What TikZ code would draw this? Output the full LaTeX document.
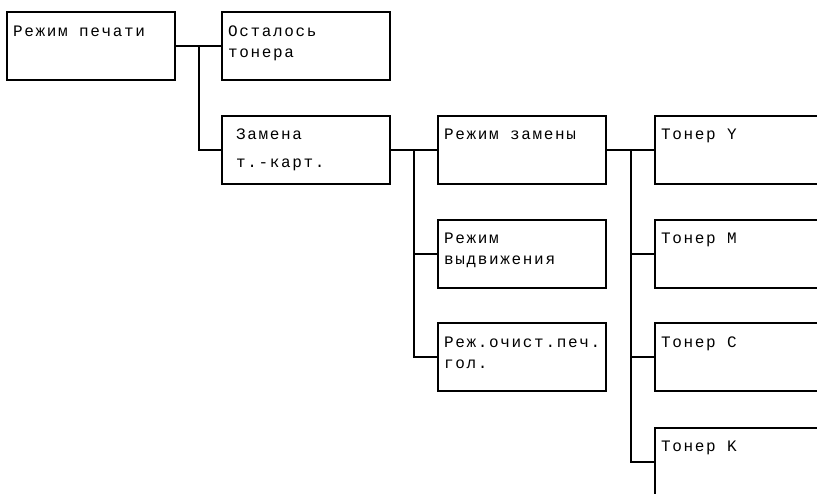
\documentclass[tikz,border=0pt]{standalone}
\usepackage{fontspec}
\newfontfamily\menufont[LetterSpace=10.5]{Liberation Mono}
\usetikzlibrary{calc}

\begin{document}
\begin{tikzpicture}[
  x=1pt, y=-1pt,
  line width=2pt,
  menubox/.style={draw, anchor=north west, minimum width=168pt, minimum height=68pt, inner sep=0pt, outer sep=0pt},
  menutext/.style={anchor=north west, inner sep=0pt, align=left, font={\menufont\fontsize{16}{21}\selectfont}}
]
\useasboundingbox (0,0) rectangle (817,493);
\clip (0,0) rectangle (817,493);

% --- menu boxes ---
\node[menubox] (print) at (7,12) {};
\node[menubox] (remain) at (222,12) {};
\node[menubox] (swap) at (222,116) {};
\node[menubox] (swapmode) at (438,116) {};
\node[menubox] (ejectmode) at (438,220) {};
\node[menubox] (cleanmode) at (438,323) {};
\node[menubox] (tonery) at (655,116) {};
\node[menubox] (tonerm) at (655,220) {};
\node[menubox] (tonerc) at (655,323) {};
\node[menubox] (tonerk) at (655,428) {};

% --- texts ---
\node[menutext] (printtxt) at ([shift={(5pt,-9pt)}]print.north west) {\strut Режим печати};
\node[menutext] (remaintxt) at ([shift={(5pt,-9pt)}]remain.north west) {\strut Осталось\\тонера};
\node[menutext] (swaptxt) at ([shift={(13pt,-8pt)}]swap.north west) {\strut Замена\\[7pt]т.-карт.};
\node[menutext] (swapmodetxt) at ([shift={(5pt,-8pt)}]swapmode.north west) {\strut Режим замены};
\node[menutext] (ejectmodetxt) at ([shift={(5pt,-8pt)}]ejectmode.north west) {\strut Режим\\выдвижения};
\node[menutext] (cleanmodetxt) at ([shift={(5pt,-9pt)}]cleanmode.north west) {\strut Реж.очист.печ.\\гол.};
\node[menutext] (toneryt) at ([shift={(5pt,-8pt)}]tonery.north west) {\strut Тонер Y};
\node[menutext] (tonermt) at ([shift={(5pt,-8pt)}]tonerm.north west) {\strut Тонер M};
\node[menutext] (tonerct) at ([shift={(5pt,-9pt)}]tonerc.north west) {\strut Тонер C};
\node[menutext] (tonerkt) at ([shift={(5pt,-8pt)}]tonerk.north west) {\strut Тонер K};

% --- connectors ---
\draw (print.east) -- (remain.west);
\coordinate (j1) at ($(print.east)!0.5!(remain.west)$);
\draw (j1) |- (swap.west);

\draw (swap.east) -- (swapmode.west);
\coordinate (j2) at ($(swap.east)!0.5!(swapmode.west)$);
\foreach \t in {ejectmode,cleanmode}
  \draw (j2) |- (\t.west);

\draw (swapmode.east) -- (tonery.west);
\coordinate (j3) at ($(swapmode.east)!0.5!(tonery.west)$);
\foreach \t in {tonerm,tonerc,tonerk}
  \draw (j3) |- (\t.west);

\end{tikzpicture}
\end{document}
